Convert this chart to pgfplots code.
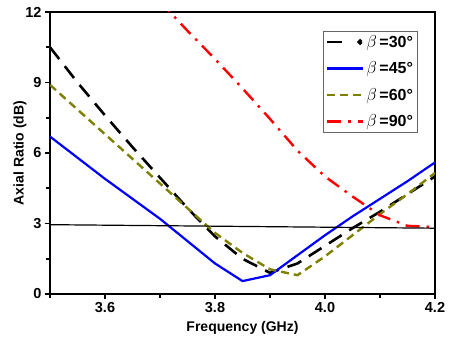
\documentclass[border=0pt]{standalone}
\usepackage{fontspec}
\setmainfont{Liberation Sans}
\usepackage{pgfplots}
\pgfplotsset{compat=1.18}
\definecolor{myolive}{RGB}{128,128,0}
\begin{document}
\begin{tikzpicture}
\path (-50pt,-46pt) rectangle (403pt,294pt);
\begin{axis}[
  scale only axis, width=385pt, height=282pt,
  at={(0pt,0pt)}, anchor=south west,
  xmin=3.5, xmax=4.2, ymin=0, ymax=12,
  xtick={3.6,3.8,4.0,4.2}, minor xtick={3.5,3.7,3.9,4.1},
  ytick={0,3,6,9,12}, minor ytick={1.5,4.5,7.5,10.5},
  tick align=outside, tick pos=left,
  major tick length=5pt, minor tick length=4pt,
  every tick/.style={black, line width=1.6pt},
  axis line style={line width=2.2pt},
  /pgf/number format/assume math mode=true,
  xticklabel style={font=\bfseries\fontsize{14.5}{15}\selectfont, /pgf/number format/.cd, fixed, fixed zerofill, precision=1},
  yticklabel style={font=\bfseries\fontsize{14.5}{15}\selectfont},
  xlabel={Frequency (GHz)}, ylabel={Axial Ratio (dB)},
  every axis x label/.style={at={(axis description cs:0.5,-0.1206)}, anchor=center, font=\bfseries\fontsize{14}{15}\selectfont},
  every axis y label/.style={at={(axis description cs:-0.078,0.5)}, anchor=center, rotate=90, font=\bfseries\fontsize{14}{15}\selectfont},
  legend style={at={(axis description cs:0.71,0.933)}, anchor=north west,
    draw=gray!80!black, line width=0.7pt, font=\bfseries\fontsize{16}{17}\selectfont,
    inner sep=2pt, row sep=9pt},
  legend cell align=left,
  legend image code/.code={\draw[#1] (0pt,0pt) -- (36pt,0pt);},
]
\addplot[black, line width=2.6pt, dash pattern=on 15pt off 9pt,
  legend image code/.code={\draw[black, line width=2.8pt] (0pt,0pt) -- (16pt,0pt); \fill[black] (33pt,0pt) circle (1.4pt);}] coordinates {
(3.5,10.5) (3.55,9.0) (3.6,7.6) (3.65,6.25) (3.7,4.95) (3.75,3.65) (3.8,2.45) (3.85,1.5) (3.9,0.9) (3.95,1.3) (4.0,2.05) (4.05,2.8) (4.1,3.5) (4.15,4.25) (4.2,5.0)};
\addlegendentry{$\beta$\,=30°}
\addplot[blue, line width=2.2pt] coordinates {
(3.5,6.7) (3.55,5.8) (3.6,4.9) (3.65,4.05) (3.7,3.2) (3.75,2.25) (3.8,1.3) (3.85,0.55) (3.9,0.8) (3.95,1.65) (4.0,2.5) (4.05,3.3) (4.1,4.05) (4.15,4.8) (4.2,5.6)};
\addlegendentry{$\beta$\,=45°}
\addplot[myolive, line width=2.4pt, dash pattern=on 8pt off 5pt] coordinates {
(3.5,8.9) (3.55,7.85) (3.6,6.8) (3.65,5.75) (3.7,4.7) (3.75,3.65) (3.8,2.6) (3.85,1.75) (3.9,1.05) (3.95,0.8) (4.0,1.6) (4.05,2.5) (4.1,3.4) (4.15,4.25) (4.2,5.15)};
\addlegendentry{$\beta$\,=60°}
\addplot[red, line width=2.4pt, dash pattern=on 14pt off 7pt on 2.5pt off 7pt] coordinates {
(3.7,12.45) (3.75,11.2) (3.8,10.0) (3.85,8.75) (3.9,7.45) (3.95,6.1) (4.0,5.0) (4.05,4.15) (4.1,3.35) (4.15,2.9) (4.2,2.85)};
\addlegendentry{$\beta$\,=90°}
\addplot[black, line width=1.2pt, forget plot] coordinates {(3.5,2.95) (4.2,2.8)};
\end{axis}
\end{tikzpicture}
\end{document}
